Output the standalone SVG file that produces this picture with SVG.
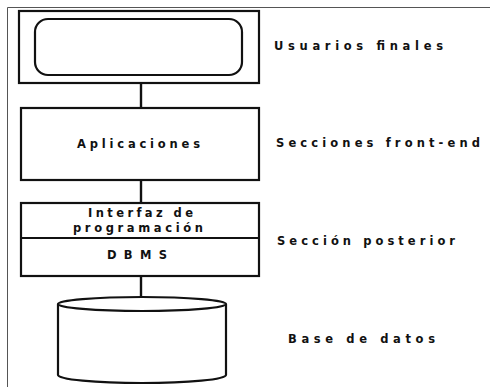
<svg xmlns="http://www.w3.org/2000/svg" width="490" height="387" viewBox="0 0 490 387">
<style>
.box{fill:#fff;stroke:#111;stroke-width:2.2}
.conn{stroke:#111;stroke-width:2.4;fill:none}
.t{font-family:"DejaVu Sans","Liberation Sans",Arial,sans-serif;font-weight:bold;font-size:11.5px;fill:#111}
.frame{stroke:#555;stroke-width:1;fill:none}
</style>
<rect width="490" height="387" fill="#fff"/>
<path class="frame" d="M7.5 387V7.5H490"/>
<g id="connectors">
<line class="conn" x1="141" y1="83" x2="141" y2="108"/>
<line class="conn" x1="141" y1="180" x2="141" y2="203"/>
<line class="conn" x1="141" y1="276" x2="141" y2="297"/>
</g>
<g id="usuarios">
<rect class="box" x="19" y="11" width="240" height="72"/>
<rect class="box" x="35" y="19" width="207" height="56" rx="13"/>
<text class="t" x="274" y="50" textLength="169" lengthAdjust="spacing">Usuarios finales</text>
</g>
<g id="aplicaciones">
<rect class="box" x="21" y="108" width="238" height="72"/>
<text class="t" x="77" y="148" textLength="123" lengthAdjust="spacing">Aplicaciones</text>
<text class="t" x="276" y="147" textLength="204" lengthAdjust="spacing">Secciones front-end</text>
</g>
<g id="posterior">
<rect class="box" x="21" y="203" width="238" height="73"/>
<line class="box" x1="21" y1="238" x2="259" y2="238" stroke-width="1.3"/>
<text class="t" x="88" y="217" textLength="105" lengthAdjust="spacing">Interfaz de</text>
<text class="t" x="73" y="232" textLength="130" lengthAdjust="spacing">programación</text>
<text class="t" x="107" y="259" textLength="60" lengthAdjust="spacing">DBMS</text>
<text class="t" x="277" y="245" textLength="178" lengthAdjust="spacing">Sección posterior</text>
</g>
<g id="basedatos">
<path class="box" d="M58 304V375A84 8 0 0 0 226 375V304"/>
<ellipse class="box" cx="142" cy="304" rx="84" ry="7"/>
<text class="t" x="288" y="343" textLength="147" lengthAdjust="spacing">Base de datos</text>
</g>
</svg>
